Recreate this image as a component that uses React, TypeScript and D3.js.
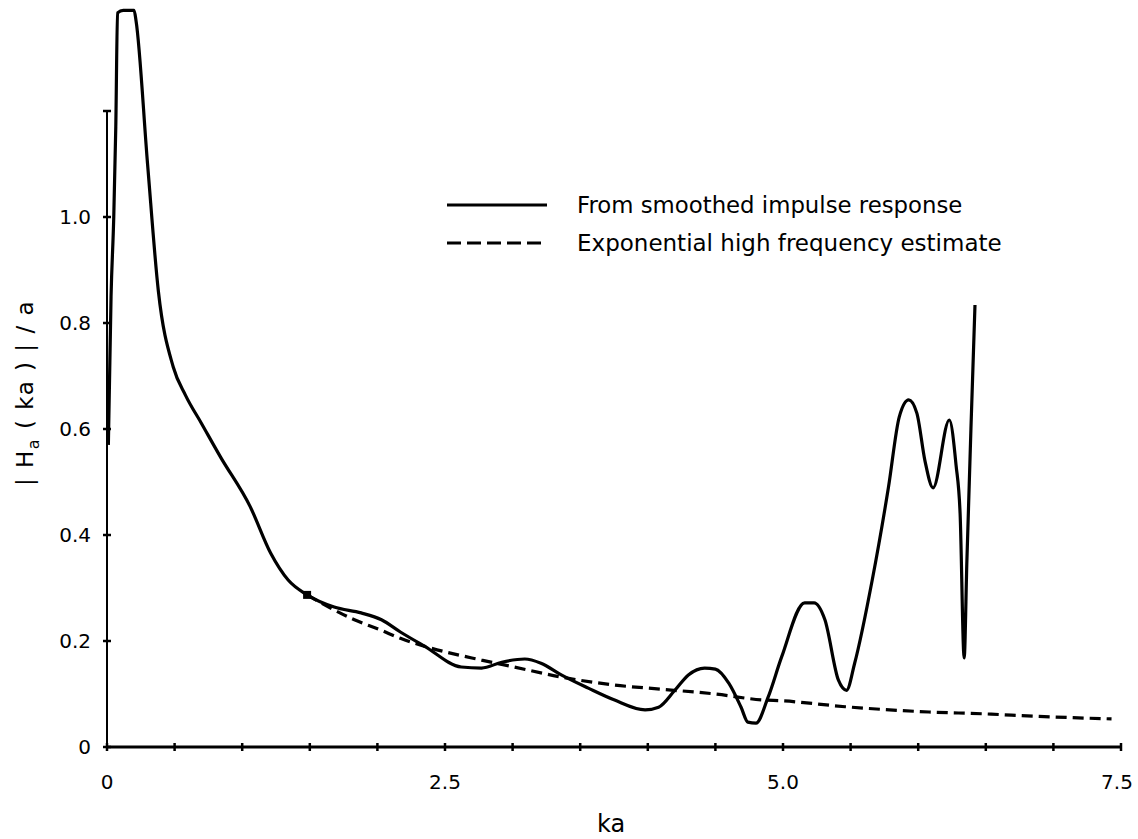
import React from "react";
import * as d3 from "d3";

const solidKa = [0.01, 0.03, 0.05, 0.065, 0.078, 0.12, 0.2, 0.215, 0.3, 0.38, 0.49, 0.58, 0.7, 0.84, 1.06, 1.21, 1.34, 1.48, 1.68, 1.88, 2.03, 2.17, 2.35, 2.62, 2.77, 2.92, 3.09, 3.21, 3.36, 3.56, 3.75, 3.98, 4.08, 4.2, 4.3, 4.42, 4.5, 4.6, 4.69, 4.74, 4.8, 4.89, 4.99, 5.16, 5.23, 5.31, 5.41, 5.47, 5.53, 5.66, 5.78, 5.86, 5.93, 5.99, 6.05, 6.11, 6.23, 6.28, 6.31, 6.34, 6.36, 6.39, 6.42];
const solidVal = [0.57, 0.85, 1.0, 1.17, 1.385, 1.39, 1.39, 1.37, 1.1, 0.86, 0.717, 0.664, 0.61, 0.547, 0.453, 0.366, 0.315, 0.287, 0.264, 0.253, 0.24, 0.217, 0.19, 0.151, 0.149, 0.16, 0.166, 0.158, 0.136, 0.111, 0.089, 0.07, 0.075, 0.107, 0.136, 0.149, 0.147, 0.12, 0.075, 0.047, 0.045, 0.094, 0.17, 0.272, 0.272, 0.24, 0.126, 0.107, 0.158, 0.315, 0.49, 0.623, 0.655, 0.63, 0.54, 0.489, 0.617, 0.532, 0.44, 0.168, 0.35, 0.6, 0.834];

const dashKa = [1.48, 1.83, 2.03, 2.17, 2.35, 2.77, 3.01, 3.36, 3.75, 4.1, 4.5, 4.84, 5.0, 5.46, 6.08, 6.54, 6.69, 7.43];
const dashVal = [0.287, 0.24, 0.22, 0.205, 0.19, 0.164, 0.151, 0.132, 0.117, 0.109, 0.1, 0.089, 0.087, 0.076, 0.066, 0.062, 0.06, 0.053];

const xTickLabels = ["0", "2.5", "5.0", "7.5"];
const xTickLabelValues = [0, 2.5, 5.0, 7.5];
const yTickLabels = ["0", "0.2", "0.4", "0.6", "0.8", "1.0"];
const yTickLabelValues = [0, 0.2, 0.4, 0.6, 0.8, 1.0];
const xMinorTicks = d3.range(0, 7.51, 0.5);
const yMinorTicks = [0, 0.2, 0.4, 0.6, 0.8, 1.0, 1.2];
const legendLabels = ["From smoothed impulse response", "Exponential high frequency estimate"];

export default function App() {
  const W = 1138, H = 839;
  const x = d3.scaleLinear().domain([0, 7.5]).range([107, 1121]);
  const y = d3.scaleLinear().domain([0, 1.0]).range([747, 217]);
  const line = d3.line<[number, number]>().x(d => x(d[0])).y(d => y(d[1])).curve(d3.curveMonotoneX);
  const solid: [number, number][] = solidKa.map((k, i) => [k, solidVal[i]]);
  const dashed: [number, number][] = dashKa.map((k, i) => [k, dashVal[i]]);
  const font = "DejaVu Sans, sans-serif";
  return (
    <svg width={W} height={H} style={{ position: "absolute", left: 0, top: 0, background: "#fff" }}>
      {/* axes */}
      <line x1={x(0)} x2={x(7.5)} y1={y(0)} y2={y(0)} stroke="#000" strokeWidth={3} />
      <line x1={x(0)} x2={x(0)} y1={y(0)} y2={y(1.2)} stroke="#000" strokeWidth={2} />
      {xMinorTicks.map(t => (
        <line key={"xt" + t} x1={x(t)} x2={x(t)} y1={y(0) - 4} y2={y(0) + 4} stroke="#000" strokeWidth={2.5} />
      ))}
      {yMinorTicks.map(t => (
        <line key={"yt" + t} x1={x(0) - 4} x2={x(0) + 4} y1={y(t)} y2={y(t)} stroke="#000" strokeWidth={2.5} />
      ))}
      {xTickLabels.map((s, i) => (
        <text key={"xl" + s} x={x(xTickLabelValues[i]) - (i === 3 ? 4 : 0)} y={789} textAnchor="middle" fontFamily={font} fontSize={20}>{s}</text>
      ))}
      {yTickLabels.map((s, i) => (
        <text key={"yl" + s} x={91} y={y(yTickLabelValues[i]) + 7} textAnchor="end" fontFamily={font} fontSize={20}>{s}</text>
      ))}
      <text x={611} y={832} textAnchor="middle" fontFamily={font} fontSize={24}>ka</text>
      <text transform="translate(33,393) rotate(-90)" textAnchor="middle" fontFamily={font} fontSize={23} letterSpacing={1.5}>
        {"| H"}<tspan fontSize={16} dy={6}>a</tspan><tspan dy={-6}>{" ( ka ) | / a"}</tspan>
      </text>
      {/* series */}
      <path d={line(dashed) || ""} fill="none" stroke="#000" strokeWidth={3.2} strokeDasharray="11,6" />
      <path d={line(solid) || ""} fill="none" stroke="#000" strokeWidth={3.2} strokeLinejoin="round" />
      <rect x={x(1.48) - 4} y={y(0.287) - 4} width={8} height={8} fill="#000" />
      {/* legend */}
      <line x1={447} x2={547} y1={205} y2={205} stroke="#000" strokeWidth={3} />
      <line x1={447} x2={547} y1={243} y2={243} stroke="#000" strokeWidth={3} strokeDasharray="14,6" />
      <text x={577} y={213} fontFamily={font} fontSize={22.8}>{legendLabels[0]}</text>
      <text x={577} y={251} fontFamily={font} fontSize={23}>{legendLabels[1]}</text>
    </svg>
  );
}
